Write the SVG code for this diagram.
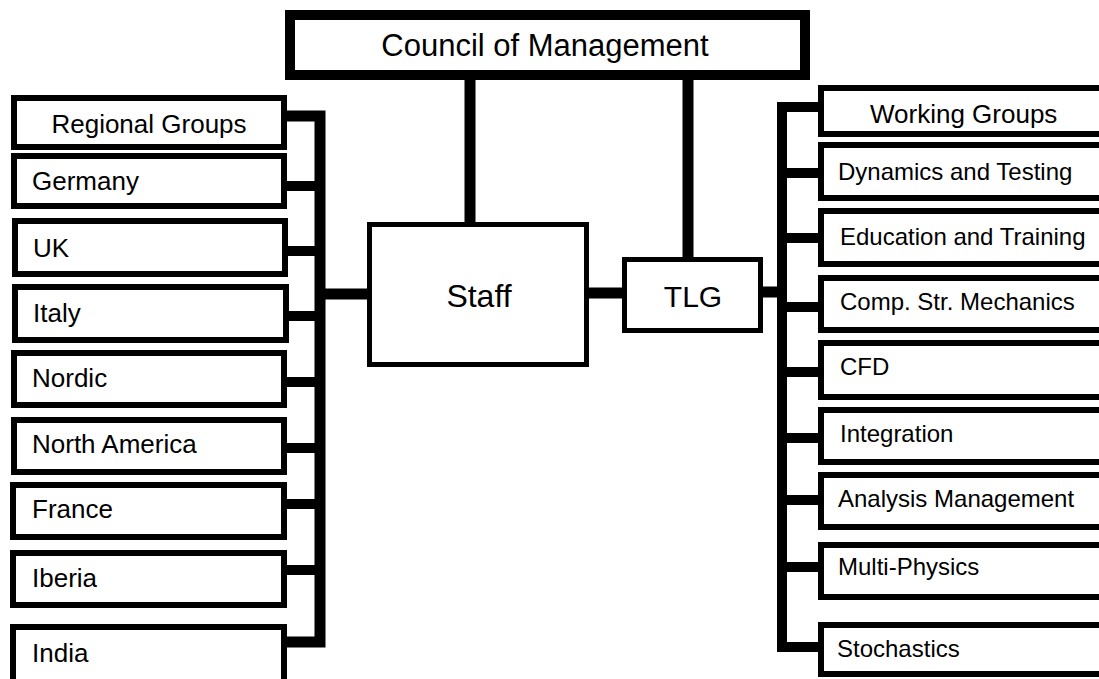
<svg xmlns="http://www.w3.org/2000/svg" width="1099" height="679" viewBox="0 0 1099 679">
<style>
.box{fill:#fff;stroke:#000}
.l{stroke-width:6}
.c{stroke:#000;fill:none;stroke-linejoin:miter}
text{font-family:"Liberation Sans",Arial,sans-serif;fill:#000}
.t26{font-size:26px}
.t24{font-size:24px}
.mid{text-anchor:middle}
</style>
<rect width="1099" height="679" fill="#fff"/>
<g id="connectors">
<line class="c" x1="470" y1="78" x2="470" y2="226" stroke-width="11"/>
<line class="c" x1="688" y1="78" x2="688" y2="260" stroke-width="11"/>
<path class="c" d="M285 116 H320 V642 H285" stroke-width="11"/>
<g class="c" stroke-width="10">
<line x1="285" y1="186" x2="320" y2="186"/>
<line x1="285" y1="251" x2="320" y2="251"/>
<line x1="285" y1="316" x2="320" y2="316"/>
<line x1="285" y1="382" x2="320" y2="382"/>
<line x1="285" y1="448" x2="320" y2="448"/>
<line x1="285" y1="504" x2="320" y2="504"/>
<line x1="285" y1="570" x2="320" y2="570"/>
</g>
<line class="c" x1="320" y1="294" x2="369" y2="294" stroke-width="11"/>
<line class="c" x1="587" y1="293" x2="624" y2="293" stroke-width="11"/>
<line class="c" x1="761" y1="292" x2="782" y2="292" stroke-width="11"/>
<path class="c" d="M820 107 H782 V647 H820" stroke-width="10"/>
<g class="c" stroke-width="10">
<line x1="782" y1="173" x2="820" y2="173"/>
<line x1="782" y1="238" x2="820" y2="238"/>
<line x1="782" y1="307" x2="820" y2="307"/>
<line x1="782" y1="372" x2="820" y2="372"/>
<line x1="782" y1="438" x2="820" y2="438"/>
<line x1="782" y1="500" x2="820" y2="500"/>
<line x1="782" y1="567" x2="820" y2="567"/>
</g>
</g>
<g id="council"><rect class="box" x="290" y="15" width="515" height="60" stroke-width="10"/><text class="mid" x="545" y="56" font-size="31">Council of Management</text></g>
<g id="staff"><rect class="box" x="369.5" y="224.5" width="217" height="140" stroke-width="5"/><text class="mid" x="479" y="307" font-size="32">Staff</text></g>
<g id="tlg"><rect class="box" x="624.5" y="259.5" width="136" height="71" stroke-width="5"/><text class="mid" x="693" y="307" font-size="30">TLG</text></g>
<g id="regional-groups"><rect class="box l" x="14" y="98" width="270" height="49"/><text class="t26 mid" x="149" y="133">Regional Groups</text></g>
<g id="germany"><rect class="box l" x="14" y="156" width="270" height="50"/><text class="t26" x="32" y="190">Germany</text></g>
<g id="uk"><rect class="box l" x="15" y="221" width="270" height="53"/><text class="t26" x="33" y="257">UK</text></g>
<g id="italy"><rect class="box l" x="15" y="287" width="271" height="53"/><text class="t26" x="33" y="322">Italy</text></g>
<g id="nordic"><rect class="box l" x="14" y="353" width="270" height="52"/><text class="t26" x="32" y="387">Nordic</text></g>
<g id="north-america"><rect class="box l" x="14" y="420" width="270" height="52"/><text class="t26" x="32" y="453">North America</text></g>
<g id="france"><rect class="box l" x="13" y="485" width="271" height="52"/><text class="t26" x="32" y="518">France</text></g>
<g id="iberia"><rect class="box l" x="13" y="553" width="271" height="52"/><text class="t26" x="32" y="587">Iberia</text></g>
<g id="india"><rect class="box l" x="13" y="627" width="271" height="60"/><text class="t26" x="32" y="662">India</text></g>
<g id="working-groups"><rect class="box l" x="821" y="88" width="300" height="46"/><text class="t26" x="870" y="123">Working Groups</text></g>
<g id="dynamics"><rect class="box l" x="821" y="145" width="300" height="53"/><text class="t24" x="838" y="180">Dynamics and Testing</text></g>
<g id="education"><rect class="box l" x="821" y="211" width="300" height="53"/><text class="t24" x="840" y="245">Education and Training</text></g>
<g id="comp-str"><rect class="box l" x="821" y="278" width="300" height="52"/><text class="t24" x="840" y="310">Comp. Str. Mechanics</text></g>
<g id="cfd"><rect class="box l" x="821" y="343" width="300" height="54"/><text class="t24" x="840" y="375">CFD</text></g>
<g id="integration"><rect class="box l" x="821" y="410" width="300" height="52"/><text class="t24" x="840" y="442">Integration</text></g>
<g id="analysis"><rect class="box l" x="821" y="475" width="300" height="52"/><text class="t24" x="838" y="507">Analysis Management</text></g>
<g id="multi-physics"><rect class="box l" x="821" y="545" width="300" height="52"/><text class="t24" x="838" y="575">Multi-Physics</text></g>
<g id="stochastics"><rect class="box l" x="821" y="625" width="300" height="49"/><text class="t24" x="837" y="657">Stochastics</text></g>
</svg>
